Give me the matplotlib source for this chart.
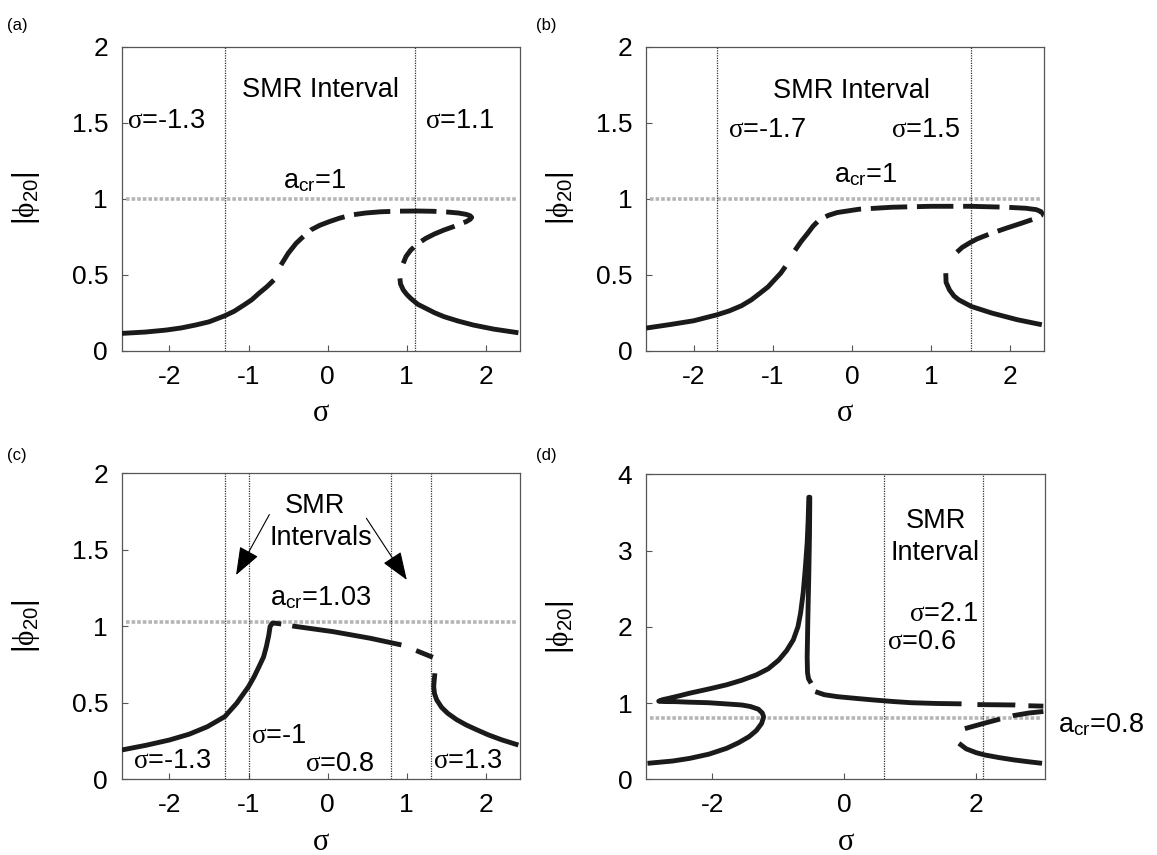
"""Four-panel plot of the amplitude |phi_20| against detuning sigma,
showing the SMR intervals and the critical amplitude a_cr in each case."""
import numpy as np
import matplotlib
matplotlib.use('Agg')
import matplotlib.pyplot as plt

plt.rcParams['font.family'] = ['Liberation Sans', 'DejaVu Sans']
plt.rcParams['mathtext.fontset'] = 'custom'
plt.rcParams['mathtext.rm'] = 'Liberation Serif'
plt.rcParams['mathtext.it'] = 'Liberation Serif:italic'
plt.rcParams['mathtext.sf'] = 'Liberation Sans'
plt.rcParams['axes.unicode_minus'] = False

# ---- panel (a) ----
a_acr = 1.0
a_smr = [-1.3, 1.1]
a_low_x = [-2.60, -2.30, -2.04, -1.85, -1.67, -1.50, -1.30, -1.18, -1.06, -0.96, -0.87, -0.77, -0.68]
a_low_y = [0.114, 0.123, 0.136, 0.150, 0.169, 0.190, 0.230, 0.260, 0.300, 0.335, 0.377, 0.420, 0.465]
a_up_x = [-0.59, -0.50, -0.40, -0.30, -0.215, -0.10, 0.02, 0.15, 0.30, 0.48, 0.67, 0.90, 1.14, 1.35,
          1.52, 1.65, 1.75, 1.80, 1.82, 1.80, 1.75, 1.60, 1.47, 1.35, 1.24, 1.14, 1.05, 0.99, 0.955]
a_up_y = [0.564, 0.640, 0.706, 0.755, 0.794, 0.825, 0.849, 0.872, 0.893, 0.906, 0.914, 0.918, 0.919, 0.917,
          0.912, 0.906, 0.897, 0.888, 0.877, 0.864, 0.849, 0.818, 0.794, 0.768, 0.739, 0.705, 0.662, 0.620, 0.575]
a_right_x = [0.913, 0.92, 0.955, 1.00, 1.05, 1.14, 1.24, 1.35, 1.47, 1.65, 1.84, 2.10, 2.41]
a_right_y = [0.476, 0.440, 0.400, 0.370, 0.344, 0.305, 0.279, 0.250, 0.224, 0.195, 0.169, 0.142, 0.118]

# ---- panel (b) ----
b_acr = 1.0
b_smr = [-1.7, 1.5]
b_low_x = [-2.60, -2.30, -2.00, -1.70, -1.55, -1.395, -1.27, -1.16, -1.06, -0.977, -0.90, -0.84]
b_low_y = [0.149, 0.172, 0.197, 0.237, 0.262, 0.296, 0.335, 0.379, 0.420, 0.467, 0.510, 0.554]
b_up_x = [-0.72, -0.64, -0.558, -0.49, -0.419, -0.30, -0.186, 0.093, 0.51, 1.00, 1.50, 1.95, 2.20,
          2.33, 2.39, 2.40, 2.39, 2.33, 2.15, 1.95, 1.75, 1.58, 1.49, 1.395, 1.32, 1.256]
b_up_y = [0.660, 0.720, 0.773, 0.820, 0.857, 0.890, 0.909, 0.931, 0.944, 0.950, 0.950, 0.944, 0.937,
          0.928, 0.915, 0.905, 0.890, 0.872, 0.840, 0.806, 0.770, 0.735, 0.710, 0.680, 0.645, 0.609]
b_right_x = [1.186, 1.19, 1.233, 1.29, 1.35, 1.51, 1.767, 2.09, 2.40]
b_right_y = [0.510, 0.450, 0.400, 0.360, 0.335, 0.291, 0.248, 0.204, 0.171]

# ---- panel (c) ----
c_acr = 1.03
c_smr = [-1.3, -1.0, 0.8, 1.3]
c_low_x = [-2.60, -2.30, -2.00, -1.75, -1.52, -1.30, -1.15, -1.00, -0.93, -0.868, -0.81, -0.775,
           -0.745, -0.728, -0.70, -0.66, -0.587]
c_low_y = [0.192, 0.222, 0.257, 0.295, 0.344, 0.410, 0.497, 0.606, 0.670, 0.736, 0.800, 0.867,
           0.940, 0.998, 1.020, 1.020, 1.015]
c_up_x = [-0.587, -0.447, 0.068, 0.536, 0.933, 1.12, 1.33]
c_up_y = [1.015, 1.002, 0.965, 0.922, 0.878, 0.841, 0.797]
c_right_x = [1.355, 1.345, 1.34, 1.35, 1.378, 1.44, 1.518, 1.63, 1.752, 1.90, 2.033, 2.20, 2.41]
c_right_y = [0.693, 0.640, 0.606, 0.560, 0.519, 0.470, 0.431, 0.390, 0.355, 0.320, 0.290, 0.258, 0.224]

# ---- panel (d) ----
d_acr = 0.8
d_smr = [0.6, 2.1]
d_left_x = [-2.98, -2.60, -2.34, -2.05, -1.78, -1.60, -1.44, -1.33, -1.25, -1.22, -1.24, -1.30, -1.42,
            -1.55, -1.80, -2.06, -2.35, -2.56, -2.72, -2.81, -2.75, -2.67, -2.50, -2.34, -2.05, -1.78,
            -1.55, -1.33, -1.15, -0.99, -0.87, -0.77, -0.70, -0.66, -0.62, -0.59, -0.56, -0.545, -0.535,
            -0.52, -0.525, -0.535, -0.55, -0.56, -0.555, -0.54, -0.50]
d_left_y = [0.21, 0.24, 0.275, 0.33, 0.407, 0.48, 0.56, 0.64, 0.734, 0.82, 0.87, 0.92, 0.955,
            0.975, 0.99, 1.005, 1.012, 1.019, 1.02, 1.025, 1.045, 1.06, 1.095, 1.13, 1.185, 1.24,
            1.30, 1.37, 1.45, 1.565, 1.69, 1.83, 2.00, 2.18, 2.45, 2.75, 3.10, 3.40, 3.70,
            3.70, 3.20, 2.70, 2.10, 1.60, 1.40, 1.32, 1.26]
d_mid_x = [-0.436, -0.30, -0.10, 0.20, 0.458, 0.75, 1.017, 1.40, 1.78]
d_mid_y = [1.15, 1.11, 1.084, 1.06, 1.04, 1.02, 1.005, 0.995, 0.99]
d_top_x = [2.02, 2.30, 2.59, 2.79, 3.02]
d_top_y = [0.980, 0.978, 0.975, 0.965, 0.960]
d_unst_x = [1.83, 2.10, 2.36, 2.56, 2.80, 3.02]
d_unst_y = [0.665, 0.730, 0.790, 0.835, 0.870, 0.890]
d_right_x = [1.74, 1.85, 2.00, 2.13, 2.35, 2.58, 2.80, 3.00]
d_right_y = [0.472, 0.400, 0.350, 0.320, 0.285, 0.254, 0.230, 0.210]

CURVE = '#1a1a1a'
LW = 3.5
DASHED = (0, (7.5, 2.0))
AXCOL = '#555555'


def branch(ax, x, y, ls='-'):
    ax.plot(x, y, color=CURVE, lw=LW, linestyle=ls, solid_capstyle='butt',
            dash_capstyle='butt', zorder=4)


def guides(ax, acr, smr):
    ax.axhline(acr, xmin=0.01, xmax=0.99, color='#b5b5b5', lw=2.6,
               linestyle=(0, (1.0, 0.55)), zorder=2)
    for s in smr:
        ax.axvline(s, color='#333333', lw=0.9, linestyle=(0, (1, 1)), zorder=3)


def style_axes(ax, xlim, ylim, xticks, yticks, ylab_x):
    ax.set_xlim(xlim)
    ax.set_ylim(ylim)
    ax.set_xticks(xticks)
    ax.set_xticklabels(['%g' % t for t in xticks])
    ax.set_yticks(yticks)
    ax.set_yticklabels(['%g' % t for t in yticks])
    for sp in ax.spines.values():
        sp.set_color(AXCOL)
        sp.set_linewidth(0.9)
    ax.tick_params(direction='in', length=4, width=0.8, color=AXCOL,
                   labelsize=19, pad=10)
    ax.set_xlabel(r'$\mathrm{\sigma}$', fontsize=22)
    ax.xaxis.set_label_coords(0.5, -0.155)
    ax.set_ylabel(r'|$\mathrm{\phi}_{\mathsf{20}}$|', fontsize=21)
    ax.yaxis.set_label_coords(ylab_x, 0.5)
    ax.yaxis.label.set_va('center')


def label(ax, x, y, s, ha='left'):
    ax.text(x, y, s, fontsize=19.5, ha=ha, va='baseline', zorder=5)


def sig(v):
    return r'$\mathrm{\sigma}$=%g' % v


def acr_text(v):
    return r'a$_{\mathsf{cr}}$=%g' % v


fig = plt.figure(figsize=(11.57, 8.55), dpi=100)
ax_a = fig.add_axes([0.1054, 0.5898, 0.344, 0.3556])
ax_b = fig.add_axes([0.5585, 0.5898, 0.344, 0.3556])
ax_c = fig.add_axes([0.1054, 0.0885, 0.344, 0.3580])
ax_d = fig.add_axes([0.5585, 0.0885, 0.345, 0.3567])

# (a)
guides(ax_a, a_acr, a_smr)
branch(ax_a, a_low_x, a_low_y)
branch(ax_a, a_up_x, a_up_y, DASHED)
branch(ax_a, a_right_x, a_right_y)
style_axes(ax_a, (-2.6, 2.43), (0, 2), [-2, -1, 0, 1, 2], [0, 0.5, 1, 1.5, 2], -0.242)
label(ax_a, -0.087, 1.671, 'SMR Interval', ha='center')
label(ax_a, -2.53, 1.463, sig(a_smr[0]))
label(ax_a, 1.235, 1.463, sig(a_smr[1]))
label(ax_a, -0.566, 1.068, acr_text(a_acr))

# (b)
guides(ax_b, b_acr, b_smr)
branch(ax_b, b_low_x, b_low_y)
branch(ax_b, b_up_x, b_up_y, DASHED)
branch(ax_b, b_right_x, b_right_y)
style_axes(ax_b, (-2.6, 2.43), (0, 2), [-2, -1, 0, 1, 2], [0, 0.5, 1, 1.5, 2], -0.216)
label(ax_b, -0.01, 1.66, 'SMR Interval', ha='center')
label(ax_b, -1.56, 1.408, sig(b_smr[0]))
label(ax_b, 0.50, 1.408, sig(b_smr[1]))
label(ax_b, -0.23, 1.106, acr_text(b_acr))

# (c)
guides(ax_c, c_acr, c_smr)
branch(ax_c, c_low_x, c_low_y)
branch(ax_c, c_up_x, c_up_y, (0, (0.001, 2.3, 22.8, 3.25, 3.7, 10)))
branch(ax_c, c_right_x, c_right_y)
style_axes(ax_c, (-2.6, 2.43), (0, 2), [-2, -1, 0, 1, 2], [0, 0.5, 1, 1.5, 2], -0.242)
label(ax_c, -0.157, 1.743, 'SMR', ha='center')
label(ax_c, -0.083, 1.532, 'Intervals', ha='center')
label(ax_c, -0.728, 1.139, acr_text(c_acr))
label(ax_c, -2.46, 0.072, sig(c_smr[0]))
label(ax_c, -0.97, 0.235, sig(c_smr[1]))
label(ax_c, -0.283, 0.057, sig(c_smr[2]))
label(ax_c, 1.33, 0.072, sig(c_smr[3]))
arrow = dict(arrowstyle='-|>,head_length=0.8,head_width=0.3', color='k', lw=0.8,
             mutation_scale=22, shrinkA=0, shrinkB=0)
ax_c.annotate('', xy=(-1.158, 1.335), xytext=(-0.737, 1.73), arrowprops=arrow, zorder=5)
ax_c.annotate('', xy=(1.0, 1.303), xytext=(0.489, 1.706), arrowprops=arrow, zorder=5)

# (d)
guides(ax_d, d_acr, d_smr)
branch(ax_d, d_left_x, d_left_y)
branch(ax_d, d_mid_x, d_mid_y)
branch(ax_d, d_top_x, d_top_y, (0, (7.8, 2.7)))
branch(ax_d, d_unst_x, d_unst_y, (0, (7.5, 2.7)))
branch(ax_d, d_right_x, d_right_y)
style_axes(ax_d, (-3.0, 3.05), (0, 4), [-2, 0, 2], [0, 1, 2, 3, 4], -0.216)
label(ax_d, 1.39, 3.29, 'SMR', ha='center')
label(ax_d, 1.38, 2.877, 'Interval', ha='center')
label(ax_d, 0.98, 2.08, sig(d_smr[1]))
label(ax_d, 0.654, 1.705, sig(d_smr[0]))
label(ax_d, 3.245, 0.62, acr_text(d_acr))

for tag, (px, py) in zip(['(a)', '(b)', '(c)', '(d)'],
                         [(7, 18), (536, 18), (7, 448), (536, 448)]):
    fig.text(px / 1157, 1 - py / 855, tag, fontsize=12, ha='left', va='top')

fig.savefig('out.png', dpi=100)
